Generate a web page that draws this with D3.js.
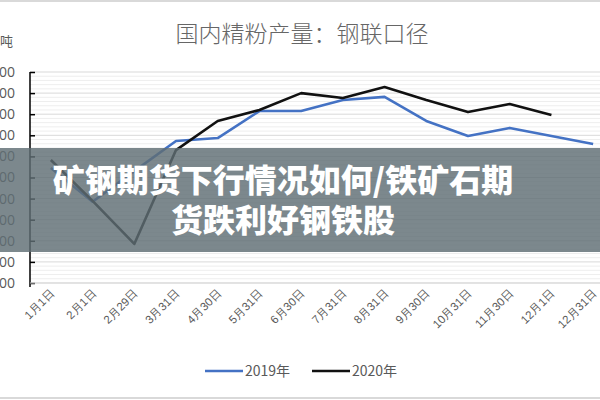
<!DOCTYPE html>
<html>
<head>
<meta charset="utf-8">
<script src="https://cdn.jsdelivr.net/npm/d3@7"></script>
<style>
  html, body { margin: 0; padding: 0; background: #fff; }
  svg { display: block; font-family: "Noto Sans CJK SC", "Noto Sans", sans-serif; }
</style>
</head>
<body>
<div id="chart"></div>
<script>
const WIDTH = 600;
const HEIGHT = 400;
const MARGIN = { top: 72, right: -14, bottom: 117, left: 30 };
const GRID_COLOR = '#d9d9d9';
const MINOR_GRID_COLOR = '#eeeeee';
const TEXT_COLOR = '#595959';
const COLOR_2019 = '#4472c4';
const COLOR_2020 = '#111111';

// data
const categories = ['1月1日', '2月1日', '2月29日', '3月31日', '4月30日', '5月31日', '6月30日',
  '7月31日', '8月31日', '9月30日', '10月31日', '11月30日', '12月1日', '12月31日'];
const values2019 = [2045, 1885, 2030, 2173, 2187, 2315, 2315, 2367, 2382, 2268, 2197, 2235, 2197, 2159];
const values2020 = [2083, 1889, 1685, 2130, 2268, 2320, 2400, 2377, 2429, 2367, 2310, 2348, 2296, null];
const yTicks = [1500, 1600, 1700, 1800, 1900, 2000, 2100, 2200, 2300, 2400, 2500];
const seriesNames = ['2019年', '2020年'];
const titleText = '国内精粉产量：钢联口径';
const unitText = '万吨';
const overlayLines = ['矿钢期货下行情况如何/铁矿石期', '货跌利好钢铁股'];

const svg = d3.select('#chart')
  .append('svg')
    .attr('width', WIDTH)
    .attr('height', HEIGHT);

const plotW = WIDTH - MARGIN.left - MARGIN.right;
const plotH = HEIGHT - MARGIN.top - MARGIN.bottom;

// x: one point per category, centred in its slot
const x = d3.scalePoint()
  .domain(categories)
  .range([MARGIN.left, MARGIN.left + plotW])
  .padding(0.5);

const y = d3.scaleLinear()
  .domain([d3.min(yTicks), d3.max(yTicks)])
  .range([MARGIN.top + plotH, MARGIN.top]);

// minor gridlines, 5 per major step
const minorTicks = d3.range(yTicks[0], d3.max(yTicks), 20).filter(v => v % 100 !== 0);
svg.append('g')
  .selectAll('line')
  .data(minorTicks)
  .enter()
  .append('line')
    .attr('x1', MARGIN.left)
    .attr('x2', WIDTH)
    .attr('y1', d => y(d))
    .attr('y2', d => y(d))
    .attr('stroke', MINOR_GRID_COLOR)
    .attr('stroke-width', 1);

// major gridlines
svg.append('g')
  .selectAll('line')
  .data(yTicks)
  .enter()
  .append('line')
    .attr('x1', MARGIN.left)
    .attr('x2', WIDTH)
    .attr('y1', d => y(d))
    .attr('y2', d => y(d))
    .attr('stroke', GRID_COLOR)
    .attr('stroke-width', 1);

// y axis: black line, ticks pointing inward, labels cut off at the left edge
const yAxis = d3.axisLeft(y)
  .tickValues(yTicks)
  .tickSizeInner(-5)
  .tickSizeOuter(0)
  .tickPadding(15)
  .tickFormat(d3.format('d'));
const yGuide = svg.append('g')
  .attr('transform', `translate(${MARGIN.left}, 0)`)
  .call(yAxis);
yGuide.select('.domain')
  .attr('d', `M0,${y(2500)}V${y(1500) + 4}`)
  .attr('stroke', '#000')
  .attr('stroke-width', 1.5);
yGuide.selectAll('.tick line').attr('stroke', '#000').attr('stroke-width', 1.5);
yGuide.selectAll('.tick text')
  .attr('fill', TEXT_COLOR)
  .style('font-size', '14px')
  .style('font-family', '"Open Sans", sans-serif');

// x axis labels, rotated
const xAxis = d3.axisBottom(x).tickSize(0).tickPadding(0);
const xGuide = svg.append('g')
  .attr('transform', `translate(0, ${MARGIN.top + plotH})`)
  .call(xAxis);
xGuide.select('.domain')
  .attr('d', `M${MARGIN.left},0H${WIDTH}`)
  .attr('stroke', GRID_COLOR);
xGuide.selectAll('.tick text')
  .attr('fill', TEXT_COLOR)
  .attr('text-anchor', 'end')
  .attr('dy', null)
  .attr('y', 0)
  .attr('transform', 'translate(4, 11) rotate(-45)')
  .style('font-size', '11.5px');

// lines
const line = d3.line()
  .defined(d => d != null)
  .x((d, i) => x(categories[i]))
  .y(d => y(d));

[[values2019, COLOR_2019], [values2020, COLOR_2020]].forEach(([vals, color]) => {
  svg.append('path')
    .datum(vals)
    .attr('fill', 'none')
    .attr('stroke', color)
    .attr('stroke-width', 2.6)
    .attr('stroke-linejoin', 'round')
    .attr('d', line);
});

// title and unit
svg.append('text')
  .attr('x', 302)
  .attr('y', 42)
  .attr('text-anchor', 'middle')
  .attr('fill', '#666')
  .style('font-size', '23px')
  .style('font-weight', 300)
  .text(titleText);

svg.append('text')
  .attr('x', 13)
  .attr('y', 46)
  .attr('text-anchor', 'end')
  .attr('fill', TEXT_COLOR)
  .style('font-size', '13px')
  .text(unitText);

// legend
const legend = svg.append('g').attr('transform', 'translate(205, 371)');
seriesNames.forEach((name, i) => {
  const g = legend.append('g').attr('transform', `translate(${i * 107}, 0)`);
  g.append('line')
    .attr('x1', 0).attr('x2', 38)
    .attr('stroke', i === 0 ? COLOR_2019 : COLOR_2020)
    .attr('stroke-width', 2.6);
  g.append('text')
    .attr('x', 40)
    .attr('y', 5)
    .attr('fill', TEXT_COLOR)
    .style('font-size', '14px')
    .text(name);
});

// article overlay band with headline text
svg.append('rect')
  .attr('x', 0)
  .attr('y', 148)
  .attr('width', WIDTH)
  .attr('height', 104)
  .attr('fill', 'rgb(95, 110, 116)')
  .attr('opacity', 0.82);

svg.append('g')
  .selectAll('text')
  .data(overlayLines)
  .enter()
  .append('text')
    .attr('x', 283)
    .attr('y', (d, i) => 192 + i * 40)
    .attr('text-anchor', 'middle')
    .attr('fill', '#fff')
    .style('font-size', '32px')
    .style('font-weight', 900)
    .text(d => d);

// thin frame at the top and bottom
svg.append('line').attr('x1', 0).attr('x2', WIDTH).attr('y1', 1).attr('y2', 1)
  .attr('stroke', GRID_COLOR).attr('stroke-width', 2);
svg.append('line').attr('x1', 0).attr('x2', WIDTH).attr('y1', 398).attr('y2', 398)
  .attr('stroke', GRID_COLOR).attr('stroke-width', 2);
</script>
</body>
</html>
